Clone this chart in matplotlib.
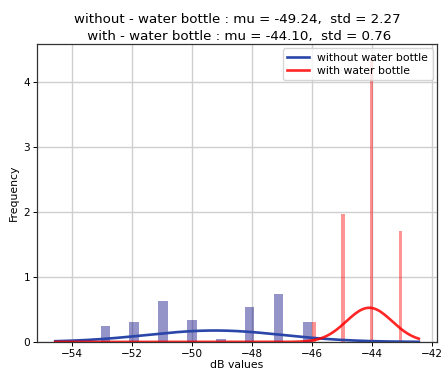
import matplotlib
matplotlib.use("Agg")
import matplotlib.pyplot as plt
import numpy as np

# histogram values (density)
blue_vals = [-53, -52, -51, -50, -49, -48, -47, -46]
blue_heights = [0.245, 0.30, 0.635, 0.33, 0.04, 0.54, 0.73, 0.30]
red_vals = [-46, -45, -44, -43]
red_heights = [0.31, 1.96, 4.36, 1.71]

blue_bins = np.linspace(-54, -46, 26)
red_bins = np.linspace(-46, -43, 26)

mu_without, std_without = -49.24, 2.27
mu_with, std_with = -44.10, 0.76

plt.rcParams['font.family'] = 'DejaVu Sans'

fig = plt.figure(figsize=(4.41, 3.77), dpi=100)
ax = fig.add_axes([0.084, 0.093, 0.907, 0.790])

ax.hist(blue_vals, bins=blue_bins, weights=blue_heights, color='navy', alpha=0.42)
ax.hist(red_vals, bins=red_bins, weights=red_heights, color='red', alpha=0.42)

xmin, xmax = ax.get_xlim()
x = np.linspace(xmin, xmax, 200)


def pdf(x, mu, std):
    return np.exp(-0.5 * ((x - mu) / std) ** 2) / (std * np.sqrt(2 * np.pi))


ax.plot(x, pdf(x, mu_without, std_without), color='#2a46a8', lw=1.9,
        label='without water bottle')
ax.plot(x, pdf(x, mu_with, std_with), color='red', lw=1.9, alpha=0.85,
        label='with water bottle')

ax.grid(True, color='#cfcfcf', lw=1.0)
ax.set_axisbelow(True)
ax.tick_params(labelsize=7.6, length=3, width=0.7, pad=2)
for s in ax.spines.values():
    s.set_linewidth(0.9)
    s.set_color('#333333')

ax.set_xlabel('dB values', fontsize=7.8, labelpad=1)
ax.set_ylabel('Frequency', fontsize=7.8, labelpad=3)
ax.set_title('without - water bottle : mu = %.2f,  std = %.2f\n'
             ' with - water bottle : mu = %.2f,  std = %.2f'
             % (mu_without, std_without, mu_with, std_with),
             fontsize=9.6, pad=3, linespacing=1.4)
ax.legend(loc='upper right', fontsize=7.8, handlelength=2.0,
          borderaxespad=0.4, borderpad=0.4, labelspacing=0.3)

fig.savefig('out.png', dpi=100)
